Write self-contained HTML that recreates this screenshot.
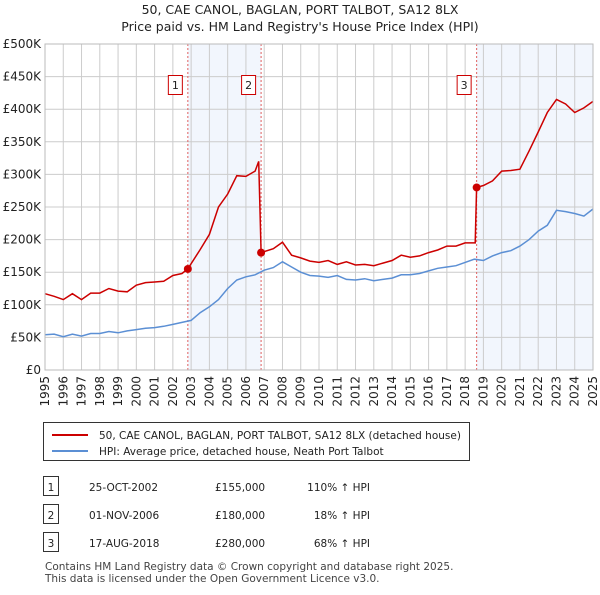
<!DOCTYPE html>
<html><head><meta charset="utf-8"><style>
body{margin:0;background:#fff;font-family:"Liberation Sans","DejaVu Sans",sans-serif;}
svg text{font-family:"DejaVu Sans","Liberation Sans",sans-serif;}
</style></head><body>
<svg id="c" width="600" height="590" xmlns="http://www.w3.org/2000/svg">
<text x="300" y="14" text-anchor="middle" font-size="12.5" fill="#222">50, CAE CANOL, BAGLAN, PORT TALBOT, SA12 8LX</text>
<text x="300" y="31" text-anchor="middle" font-size="12.5" fill="#222">Price paid vs. HM Land Registry's House Price Index (HPI)</text>
<g id="plot"></g>
<g>
<rect x="43.5" y="422.5" width="426" height="38" fill="#fff" stroke="#333"/>
<line x1="52" y1="435" x2="88" y2="435" stroke="#cc0000" stroke-width="2"/>
<text x="99" y="439" font-size="10.5" fill="#222">50, CAE CANOL, BAGLAN, PORT TALBOT, SA12 8LX (detached house)</text>
<line x1="52" y1="451" x2="88" y2="451" stroke="#5b8fd4" stroke-width="2"/>
<text x="99" y="455" font-size="10.5" fill="#222">HPI: Average price, detached house, Neath Port Talbot</text>
</g>
<g id="table" font-size="10.5" fill="#222"></g>
<text x="45" y="570" font-size="10.5" fill="#444">Contains HM Land Registry data © Crown copyright and database right 2025.</text>
<text x="45" y="582" font-size="10.5" fill="#444">This data is licensed under the Open Government Licence v3.0.</text>
</svg>
<script>
const yTicks=[0,50,100,150,200,250,300,350,400,450,500];
const yTickLabels=["£0","£50K","£100K","£150K","£200K","£250K","£300K","£350K","£400K","£450K","£500K"];
const xYears=[1995,1996,1997,1998,1999,2000,2001,2002,2003,2004,2005,2006,2007,2008,2009,2010,2011,2012,2013,2014,2015,2016,2017,2018,2019,2020,2021,2022,2023,2024,2025];
const hpiT=[1995,1995.5,1996,1996.5,1997,1997.5,1998,1998.5,1999,1999.5,2000,2000.5,2001,2001.5,2002,2002.5,2003,2003.5,2004,2004.5,2005,2005.5,2006,2006.5,2007,2007.5,2008,2008.5,2009,2009.5,2010,2010.5,2011,2011.5,2012,2012.5,2013,2013.5,2014,2014.5,2015,2015.5,2016,2016.5,2017,2017.5,2018,2018.5,2019,2019.5,2020,2020.5,2021,2021.5,2022,2022.5,2023,2023.5,2024,2024.5,2025];
const hpiV=[54,55,51,55,52,56,56,59,57,60,62,64,65,67,70,73,76,88,97,108,125,138,143,146,153,157,166,158,150,145,144,142,145,139,138,140,137,139,141,146,146,148,152,156,158,160,165,170,168,175,180,183,190,200,213,222,245,243,240,236,247];
const priceT=[1995,1995.5,1996,1996.5,1997,1997.5,1998,1998.5,1999,1999.5,2000,2000.5,2001,2001.5,2002,2002.5,2002.82,2003.5,2004,2004.5,2005,2005.5,2006,2006.5,2006.7,2006.83,2007.5,2008,2008.5,2009,2009.5,2010,2010.5,2011,2011.5,2012,2012.5,2013,2013.5,2014,2014.5,2015,2015.5,2016,2016.5,2017,2017.5,2018,2018.55,2018.63,2019,2019.5,2020,2020.5,2021,2021.5,2022,2022.5,2023,2023.5,2024,2024.5,2025];
const priceV=[117,113,108,117,108,118,118,125,121,120,130,134,135,136,145,148,155,185,208,250,270,298,297,305,320,180,186,196,176,172,167,165,168,162,166,161,162,160,164,168,176,173,175,180,184,190,190,195,195,280,283,290,305,306,308,336,365,395,415,408,395,402,412];
const salesT=[2002.82,2006.83,2018.63];
const salesV=[155,180,280];
const salesLabels=["1","2","3"];
const tableDates=["25-OCT-2002","01-NOV-2006","17-AUG-2018"];
const tablePrices=["£155,000","£180,000","£280,000"];
const tableHpi=["110% ↑ HPI","18% ↑ HPI","68% ↑ HPI"];

const X0=45,X1=593,Y0=370,Y1=44;
const xs=t=>X0+(t-1995)/30*(X1-X0);
const ys=v=>Y0-v/500*(Y0-Y1);
const NS="http://www.w3.org/2000/svg";
const plot=document.getElementById('plot');
function mk(tag,attrs,parent){const e=document.createElementNS(NS,tag);for(const k in attrs)e.setAttribute(k,attrs[k]);(parent||plot).appendChild(e);return e;}
// shading
let sh1=mk('rect',{x:xs(salesT[0]),y:Y1,width:xs(salesT[1])-xs(salesT[0]),height:Y0-Y1,fill:'#eef3fc',opacity:0.75});


let sh2=mk('rect',{x:xs(salesT[2]),y:Y1,width:X1-xs(salesT[2]),height:Y0-Y1,fill:'#eef3fc',opacity:0.75});


// grid
yTicks.forEach((v,i)=>{
 let l=mk('line',{x1:X0,x2:X1,y1:ys(v),y2:ys(v),stroke:'#cccccc','stroke-width':1});
 
 
 let t=mk('text',{x:X0-4,y:ys(v)+4,'text-anchor':'end','font-size':12,fill:'#222'});
 t.textContent=yTickLabels[i];
 
 
});
xYears.forEach(y=>{
 let l=mk('line',{x1:xs(y),x2:xs(y),y1:Y1,y2:Y0,stroke:'#cccccc','stroke-width':1});
 
 
 let t=mk('text',{x:0,y:0,'text-anchor':'end','font-size':12,fill:'#222',transform:`translate(${xs(y)+4},${Y0+6}) rotate(-90)`});
 t.textContent=y;
 
 
});
// sale vertical lines
salesT.forEach((t,i)=>{
 let l=mk('line',{x1:xs(t),x2:xs(t),y1:Y1,y2:Y0,stroke:'#e06060','stroke-width':1,'stroke-dasharray':'2,2'});
 
 
 let r=mk('rect',{x:xs(t)-19.5,y:75.5,width:14,height:19,fill:'#fff',stroke:'#cc0000'});
 
 
 let tx=mk('text',{x:xs(t)-12.5,y:89,'text-anchor':'middle','font-size':11,fill:'#222'});
 tx.textContent=salesLabels[i];
 
 
});
function path(T,V){return T.map((t,i)=>(i?'L':'M')+xs(t).toFixed(1)+','+ys(V[i]).toFixed(1)).join('');}
let hp=mk('path',{d:path(hpiT,hpiV),fill:'none',stroke:'#5b8fd4','stroke-width':1.5});


let pp=mk('path',{d:path(priceT,priceV),fill:'none',stroke:'#cc0000','stroke-width':1.5});


salesT.forEach((t,i)=>{
 let c=mk('circle',{cx:xs(t),cy:ys(salesV[i]),r:4,fill:'#cc0000'});
 
 
});
let fr=mk('rect',{x:X0,y:Y1,width:X1-X0,height:Y0-Y1,fill:'none',stroke:'#bbb'});


// table
const tb=document.getElementById('table');
salesLabels.forEach((s,i)=>{
 const y=487+i*28;
 let b=mk('rect',{x:43.5,y:y-10.5,width:15,height:19,fill:'#fff',stroke:'#333'},tb);
 
 
 const cells=[[51,s,'middle'],[89,tableDates[i],'start'],[215,tablePrices[i],'start'],[320,tableHpi[i],'end']];
 cells.forEach(c=>{
  let t=mk('text',{x:c[0]+(c[2]=='end'?50:0),y:y+4,'text-anchor':c[2],'font-size':10.5,fill:'#222'},tb);
  t.textContent=c[1];
  
  
 });
});
</script>
</body></html>
